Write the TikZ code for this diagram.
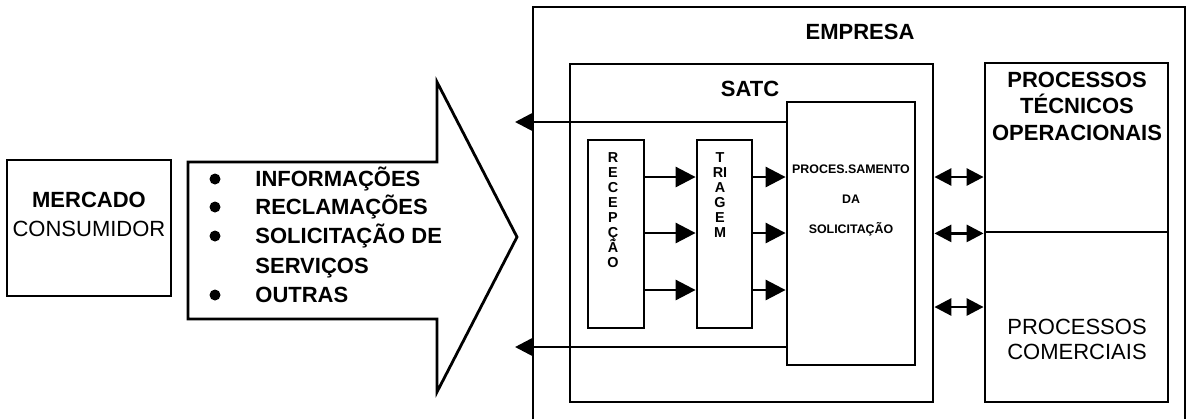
\documentclass[tikz,border=0pt]{standalone}
\usepackage{fontspec}
\setmainfont{Liberation Sans}
\usetikzlibrary{arrows.meta, calc}
\setlength{\lineskiplimit}{-10pt}

\tikzset{
  box/.style={
    rectangle, draw, line width=1.4pt, inner sep=0pt
  },
  heading/.style={
    font=\fontsize{11}{13.25}\selectfont\bfseries, align=center, inner sep=0pt
  },
  plaintxt/.style={
    font=\fontsize{11}{12.5}\selectfont, align=center, inner sep=0pt
  },
  itemtxt/.style={
    font=\fontsize{11}{13}\selectfont\bfseries, anchor=west,
    inner sep=0pt, text height=8pt, text depth=0.2pt
  },
  bulletmark/.style={circle, fill, inner sep=0pt, minimum size=5.5pt},
  vletters/.style={
    font=\fontsize{7.2}{7.5}\selectfont\bfseries, align=center, inner sep=0pt
  },
  smalltxt/.style={
    font=\fontsize{6.2}{15}\selectfont\bfseries, align=center, inner sep=0pt
  },
  flow/.style={-{Triangle[length=10pt,width=10pt]}, line width=1.4pt},
  ret/.style={-{Triangle[length=9pt,width=9pt]}, line width=1.4pt},
  linkarrow/.style={{Triangle[length=8.5pt,width=8.5pt]}-{Triangle[length=8.5pt,width=8.5pt]}, line width=1.4pt}
}

\begin{document}
\begin{tikzpicture}[x=0.5pt, y=-0.5pt]
  \useasboundingbox (0,0) rectangle (1188,419);

  %% ---- Market ----
  \node[box, minimum width=82pt, minimum height=68pt] (mercado) at (89,228) {};
  \node[plaintxt, font=\fontsize{11}{14.5}\selectfont] (mercadotxt) at (89,214.5)
    {\textbf{MERCADO}\\CONSUMIDOR};

  %% ---- Big arrow with the incoming demands ----
  \draw[line width=1.4pt, line join=miter]
    (188,162) -- (437,162) -- (437,82) -- (517,237)
    -- (437,392) -- (437,319) -- (188,319) -- cycle;

  \node[bulletmark] (b1) at (215,179) {};
  \node[itemtxt] (i1) at (255,179) {INFORMAÇÕES};
  \node[bulletmark] (b2) at (215,207) {};
  \node[itemtxt] (i2) at (255,207) {RECLAMAÇÕES};
  \node[bulletmark] (b3) at (215,236) {};
  \node[itemtxt] (i3) at (255,236) {SOLICITAÇÃO DE};
  \node[itemtxt] (i4) at (255,266) {SERVIÇOS};
  \node[bulletmark] (b5) at (215,295) {};
  \node[itemtxt] (i5) at (255,295) {OUTRAS};

  %% ---- Company (open at the bottom) ----
  \coordinate (empsw) at (533,419);
  \coordinate (empse) at (1185,419);
  \draw[line width=1.4pt] (empsw) -- (533,7) -- (1185,7) -- (empse);
  \node[heading] (emptxt) at (860,32) {EMPRESA};

  %% ---- SATC block ----
  \node[box, minimum width=181.5pt, minimum height=169pt] (satc) at (751.5,233) {};
  \node[heading] (satctxt) at (750,89) {SATC};

  \node[box, minimum width=64pt, minimum height=131.5pt] (proc) at (851,233.5) {};
  \node[smalltxt] (proctxt) at (851,200) {PROCES.SAMENTO\\DA\\SOLICITAÇÃO};

  \node[box, minimum width=28pt, minimum height=94pt] (rec) at (616,234) {};
  \node[vletters] (rectxt) at (613,210.5) {R\\E\\C\\E\\P\\Ç\\Ã\\O};

  \node[box, minimum width=27.5pt, minimum height=94pt] (tri) at (724.5,234) {};
  \node[vletters] (tritxt) at (720,195) {T\\RI\\A\\G\\E\\M};

  %% ---- Internal flow ----
  \coordinate (lane1) at (0,177);
  \coordinate (lane2) at (0,233);
  \coordinate (lane3) at (0,290);
  \draw[flow] (rec.east |- lane1) -- (tri.west |- lane1);
  \draw[flow] (rec.east |- lane2) -- (tri.west |- lane2);
  \draw[flow] (rec.east |- lane3) -- (tri.west |- lane3);
  \draw[flow] (tri.east |- lane1) -- (proc.west |- lane1);
  \draw[flow] (tri.east |- lane2) -- (proc.west |- lane2);
  \draw[flow] (tri.east |- lane3) -- (proc.west |- lane3);

  %% ---- Answers back to the market ----
  \coordinate (outup) at (515,122);
  \coordinate (outdown) at (515,347);
  \draw[ret] (proc.west |- outup) -- (outup);
  \draw[ret] (proc.west |- outdown) -- (outdown);

  %% ---- Processes on the right ----
  \node[box, minimum width=91.5pt, minimum height=84.5pt] (pto) at (1076.5,147.5) {};
  \node[box, minimum width=91.5pt, minimum height=85pt] (pc) at (1076.5,317) {};
  \node[heading] (ptotxt) at (1077,106) {PROCESSOS\\TÉCNICOS\\OPERACIONAIS};
  \node[plaintxt] (pctxt) at (1077,339.5) {PROCESSOS\\COMERCIAIS};

  \coordinate (lk1) at (0,177);
  \coordinate (lk3) at (0,307);
  \draw[linkarrow] (satc.east |- lk1) -- (pto.west |- lk1);
  \draw[linkarrow] (satc.east |- pto.south) -- (pto.south west);
  \draw[linkarrow] (satc.east |- lk3) -- (pc.west |- lk3);

\end{tikzpicture}
\end{document}
